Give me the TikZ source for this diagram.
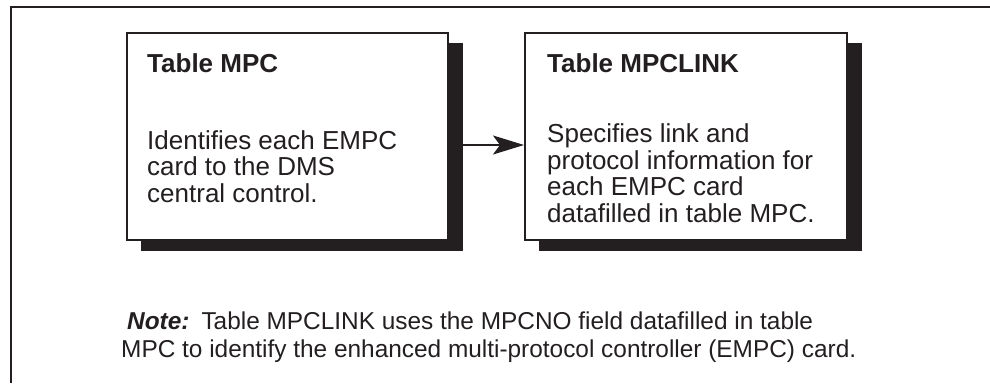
\documentclass[tikz,border=0pt]{standalone}
\usepackage{fontspec}
\setmainfont{Liberation Sans}
\usetikzlibrary{arrows.meta}
\definecolor{ink}{HTML}{231F20}
\tikzset{
  frame/.style={draw=ink, line width=1.6pt},
  tablebox/.style={draw=ink, fill=white, line width=2pt, inner sep=0pt, anchor=north west},
  boxshadow/.style={fill=ink},
  txt/.style={anchor=north west, inner sep=0pt, align=left, text=ink,
    font=\fontsize{26}{26.5}\selectfont},
  notetxt/.style={txt, font=\fontsize{24.4}{27.5}\selectfont},
  conn/.style={draw=ink, line width=1.6pt,
    -{Stealth[length=31pt, width=19pt, inset=7pt]}}
}
\begin{document}
\begin{tikzpicture}[x=1pt, y=-1pt]
\useasboundingbox (0,0) rectangle (990,383);
% open frame: left and top rules
\draw[frame] (11,383) -- (11,7) -- (990,7);

% drop shadows, then the two table boxes on top
\coordinate (mpcnw) at (126,32);
\coordinate (linknw) at (524,32);
\fill[boxshadow] ([shift={(15,11)}]mpcnw) rectangle ([shift={(337,219)}]mpcnw);
\fill[boxshadow] ([shift={(15,11)}]linknw) rectangle ([shift={(338,219)}]linknw);
\node[tablebox, minimum width=321pt, minimum height=207pt] (mpc) at (mpcnw) {};
\node[tablebox, minimum width=322pt, minimum height=207pt] (link) at (linknw) {};

% box texts
\node[txt] (mpct) at (147,53) {\bfseries Table MPC};
\node[txt] (mpcb) at (147,130) {Identifies each EMPC\\card to the DMS\\central control.};
\node[txt] (linkt) at (547,53) {\bfseries Table MPCLINK};
\node[txt] (linkb) at (547,123.5) {Specifies link and\\protocol information for\\each EMPC card\\datafilled in table MPC.};

% connector
\coordinate (ay) at (0,145);
\draw[conn] (mpc.east |- ay) -- (link.west |- ay);

% note
\node[notetxt] (note) at (121,312) {\hspace*{6pt}{\bfseries\itshape Note:}\hspace{0.12em} Table MPCLINK uses the MPCNO field datafilled in table\\MPC to identify the enhanced multi-protocol controller (EMPC) card.};
\end{tikzpicture}
\end{document}
